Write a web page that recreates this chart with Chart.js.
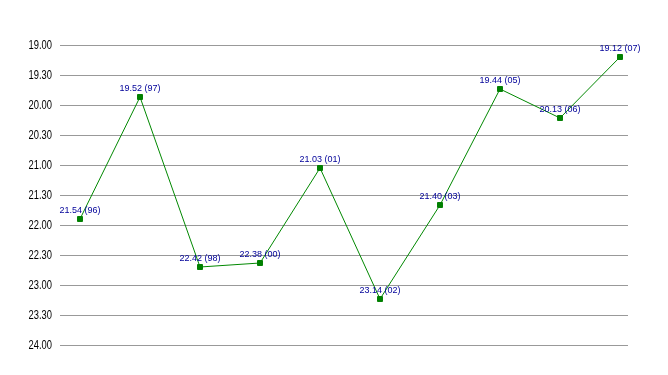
<!DOCTYPE html>
<html>
<head>
<meta charset="utf-8">
<script src="https://cdn.jsdelivr.net/npm/chart.js@4"></script>
<style>
  html, body { margin: 0; padding: 0; background: #fff; }
  #wrap { width: 668px; height: 375px; }
</style>
</head>
<body>
<div id="wrap"><canvas id="chart" width="668" height="375"></canvas></div>
<script>
// times are minutes.seconds, years are the two-digit labels shown next to each point
const times = ['21.54', '19.52', '22.42', '22.38', '21.03', '23.14', '21.40', '19.44', '20.13', '19.12'];
const years = ['96', '97', '98', '00', '01', '02', '03', '05', '06', '07'];
const tickValues = [19, 19.5, 20, 20.5, 21, 21.5, 22, 22.5, 23, 23.5, 24];

// mm.ss -> decimal minutes
function toMinutes(t) {
  const [m, s] = t.split('.');
  return Number(m) + Number(s) / 60;
}
// decimal minutes -> mm.ss
function toLabel(v) {
  const m = Math.floor(v + 1e-9);
  const s = Math.round((v - m) * 60);
  return m + '.' + String(s).padStart(2, '0');
}

const points = times.map((t, i) => ({ x: i, y: toMinutes(t) }));

const pointLabels = {
  id: 'pointLabels',
  afterDatasetsDraw(chart) {
    const ctx = chart.ctx;
    const meta = chart.getDatasetMeta(0);
    ctx.save();
    ctx.font = '9px "Liberation Sans", Arial, sans-serif';
    ctx.fillStyle = '#000099';
    ctx.textAlign = 'center';
    ctx.textBaseline = 'alphabetic';
    meta.data.forEach((pt, i) => {
      ctx.fillText(times[i] + ' (' + years[i] + ')', pt.x, pt.y - 6);
    });
    ctx.restore();
  }
};

// the original axis uses a narrow face, so squeeze the labels a bit
const narrowTicks = {
  id: 'narrowTicks',
  afterDraw(chart) {
    const ctx = chart.ctx;
    const y = chart.scales.y;
    const sx = 0.78;
    ctx.save();
    ctx.font = '12px "Liberation Sans", Arial, sans-serif';
    ctx.fillStyle = '#000';
    ctx.textAlign = 'right';
    ctx.textBaseline = 'middle';
    ctx.scale(sx, 1);
    tickValues.forEach(v => {
      ctx.fillText(toLabel(v), 52 / sx, y.getPixelForValue(v) + 0.5);
    });
    ctx.restore();
  }
};

new Chart(document.getElementById('chart'), {
  type: 'line',
  data: {
    datasets: [{
      data: points,
      borderColor: '#008800',
      borderWidth: 1,
      backgroundColor: '#008000',
      pointStyle: 'rect',
      pointRadius: 3.5,
      pointBorderWidth: 1,
      pointBorderColor: '#008000',
      tension: 0
    }]
  },
  options: {
    responsive: false,
    animation: false,
    layout: { padding: { top: 45, bottom: 30, right: 40, left: 0 } },
    plugins: {
      legend: { display: false },
      tooltip: { enabled: false }
    },
    scales: {
      x: {
        type: 'linear',
        display: false,
        min: -1 / 3,
        max: 9 + 8 / 60
      },
      y: {
        reverse: true,
        min: 19,
        max: 24,
        afterFit(axis) { axis.width = 60; },
        afterBuildTicks(axis) { axis.ticks = tickValues.map(v => ({ value: v })); },
        border: { display: false },
        grid: { color: '#999999', drawTicks: false, lineWidth: 1 },
        ticks: { display: false }
      }
    }
  },
  plugins: [pointLabels, narrowTicks]
});
</script>
</body>
</html>
